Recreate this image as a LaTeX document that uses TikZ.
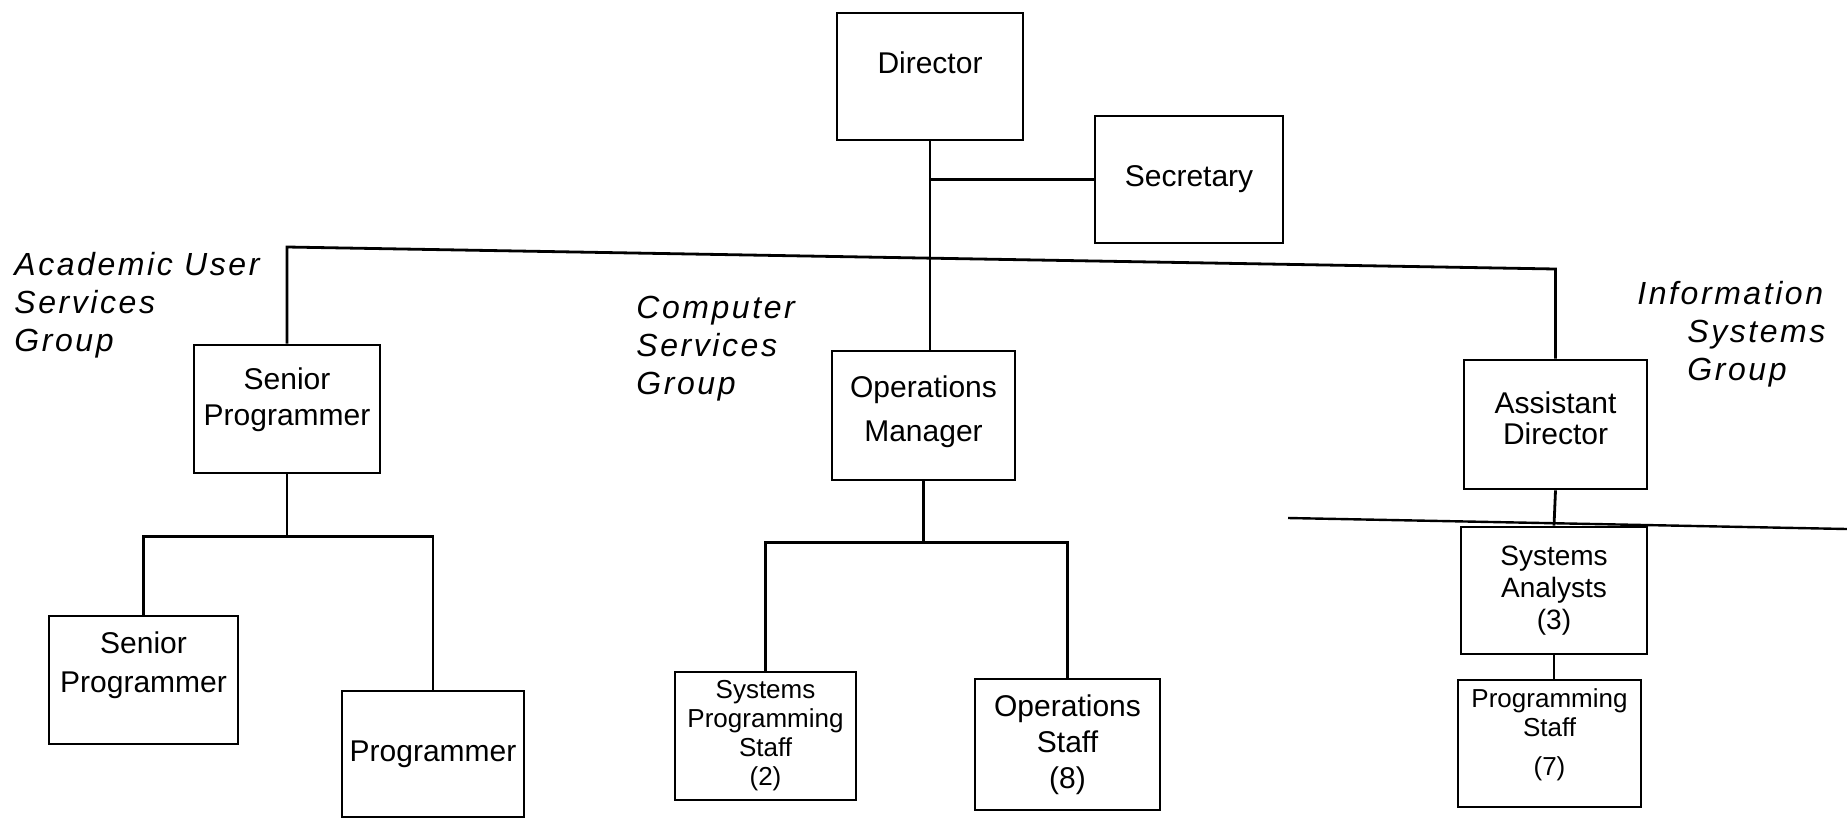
\documentclass[tikz,border=0pt]{standalone}
\usepackage{fontspec}
\newfontfamily\boxfont{Liberation Sans}
\newfontfamily\grpfont{Liberation Sans}[LetterSpace=8]

\begin{document}
\begin{tikzpicture}[x=0.5pt, y=-0.5pt,
  box/.style={draw, line width=1.4pt, align=center, inner sep=0pt, font=\boxfont\fontsize{15}{18}\selectfont},
  staff/.style={box, font=\boxfont\fontsize{13}{14.5}\selectfont},
  boxsize/.style 2 args={minimum width=#1, minimum height=#2},
  group/.style={align=left, inner sep=0pt, font=\grpfont\itshape\fontsize{16}{19}\selectfont},
  link/.style={line width=1.4pt}]

\useasboundingbox (0,0) rectangle (1847,820);

\node (dir) [box, boxsize={93pt}{63.5pt}, text depth=13.5pt] at (930,76.5) {Director};
\node (sec) [box, boxsize={94pt}{63.5pt}] at (1189,179.5) {Secretary};
\node (sp1) [box, boxsize={93pt}{64pt}, text depth=12pt] at (287,409) {Senior\\Programmer};
\node (om) [box, boxsize={91.5pt}{64.5pt}, text depth=6.5pt] at (923.5,415.5) {Operations\\[4pt]Manager};
\node (ad) [box, boxsize={91.5pt}{64.5pt}, text depth=6pt] at (1555.5,424.5) {Assistant\\[-2.5pt]Director};
\node (sp2) [box, boxsize={94.5pt}{64pt}, text depth=17.5pt] at (143.5,680) {Senior\\[1.5pt]Programmer};
\node (prog) [box, boxsize={91pt}{63pt}] at (433,754) {Programmer};
\node (sps) [staff, boxsize={90.5pt}{64pt}] at (765.5,736) {Systems\\Programming\\Staff\\(2)};
\node (ops) [box, boxsize={92.5pt}{65.5pt}] at (1067.5,744.5) {Operations\\Staff\\(8)};
\node (sa) [staff, boxsize={93pt}{63.5pt}, font=\boxfont\fontsize{14}{16}\selectfont] at (1554,590.5) {Systems\\Analysts\\(3)};
\node (ps) [staff, boxsize={91.5pt}{63.5pt}, text depth=11pt] at (1549.5,743.5) {Programming\\Staff\\[5pt](7)};

%Groups:
\node (ausg) [group, anchor=west] at (14,305) {Academic User\\Services\\Group};
\node (csg) [group, anchor=west] at (636,349) {Computer\\Services\\Group};
\node (isg) [group, anchor=west] at (1637,334) {Information\\\hspace*{25pt}Systems\\\hspace*{25pt}Group};

%Lines:
\coordinate (busL) at (287,247);
\coordinate (busR) at (1555.5,269);
\draw [link] (dir.south) -- (dir.south |- om.north);
\draw [link] (dir.south |- sec.west) -- (sec.west);
\draw [link] (sp1.north) -- (busL) -- (busR) -- (ad.north);
\draw [link] (sp1.south) -- ++(0,62) coordinate (sp1bus);
\draw [link] (sp2.north) |- (sp1bus) -| (prog.north);
\draw [link] (om.south) -- ++(0,61) coordinate (ombus);
\draw [link] (sps.north) |- (ombus) -| (ops.north);
\draw [link] (ad.south) -- (sa.north);
\draw [link] (sa.south) -- (sa.south |- ps.north);

%fold mark
\coordinate (foldL) at (1288,518);
\coordinate (foldR) at (1847,529);
\draw [line width=1.2pt] (foldL) -- (foldR);

\end{tikzpicture}
\end{document}
